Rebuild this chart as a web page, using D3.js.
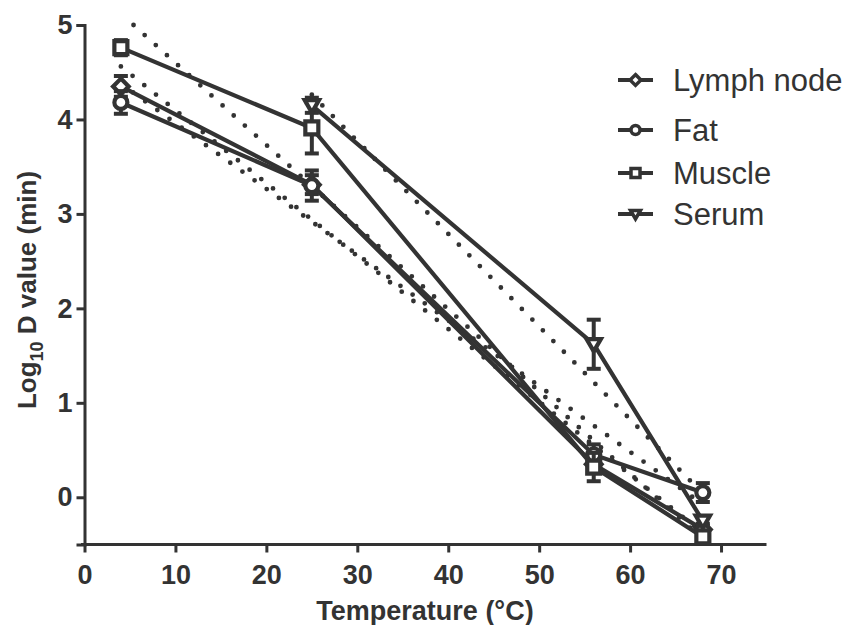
<!DOCTYPE html>
<html><head><meta charset="utf-8">
<script src="https://cdn.jsdelivr.net/npm/d3@7/dist/d3.min.js"></script>
<style>body{margin:0;background:#fff;}svg{display:block;}</style>
</head><body>
<svg id="chart" width="845" height="625"></svg>
<script>
// ---- data ----
const seriesNames = ["Lymph node", "Fat", "Muscle", "Serum"];
const seriesSymbols = ["diamond", "circle", "square", "triangle"];
const lymphX = [4, 25, 56, 68];
const lymphY = [4.35, 3.31, 0.35, -0.34];
const lymphErr = [0.11, 0.10, 0.08, 0.06];
const fatX = [4, 25, 56, 68];
const fatY = [4.18, 3.30, 0.45, 0.05];
const fatErr = [0.12, 0.16, 0.11, 0.10];
const muscleX = [4, 25, 56, 68];
const muscleY = [4.76, 3.91, 0.32, -0.42];
const muscleErr = [0.08, 0.27, 0.15, 0.05];
const serumX = [25, 56, 68];
const serumY = [4.15, 1.62, -0.25];
const serumErr = [0.08, 0.26, 0.05];
const xTicks = [0, 10, 20, 30, 40, 50, 60, 70];
const yTicks = [0, 1, 2, 3, 4, 5];

const seriesData = [
  {x: lymphX, y: lymphY, e: lymphErr},
  {x: fatX, y: fatY, e: fatErr},
  {x: muscleX, y: muscleY, e: muscleErr},
  {x: serumX, y: serumY, e: serumErr}
];

const ink = "#333333";
const font = "Liberation Sans, Arial, sans-serif";
const svg = d3.select("#chart");
const x = d3.scaleLinear().domain([0, 75]).range([84.5, 766.5]);
const y = d3.scaleLinear().domain([-0.5, 5]).range([544.5, 25]);

// least-squares fit lines (dotted)
function fit(xs, ys) {
  const mx = d3.mean(xs), my = d3.mean(ys);
  let sxy = 0, sxx = 0;
  xs.forEach((v, i) => { sxy += (v - mx) * (ys[i] - my); sxx += (v - mx) * (v - mx); });
  const b = sxy / sxx, a = my - b * mx;
  return {a, b};
}
const fitG = svg.append("g");
seriesData.forEach(s => {
  const f = fit(s.x, s.y);
  let x0 = d3.min(s.x), x1 = d3.max(s.x);
  if (f.a + f.b * x0 > 5) x0 = (5 - f.a) / f.b;
  fitG.append("line")
    .attr("x1", x(x0)).attr("y1", y(f.a + f.b * x0))
    .attr("x2", x(x1)).attr("y2", y(f.a + f.b * x1))
    .attr("stroke", ink).attr("stroke-width", 4.8)
    .attr("stroke-linecap", "round").attr("stroke-dasharray", "0 15");
});

// axes
const xAxis = d3.axisBottom(x).tickValues(xTicks).tickSize(8).tickPadding(12).tickFormat(d3.format("d"));
const gx = svg.append("g").attr("transform", "translate(0,544.5)").call(xAxis);
const yAxis = d3.axisLeft(y).tickValues(yTicks).tickSize(8).tickPadding(4).tickFormat(d3.format("d"));
const gy = svg.append("g").attr("transform", "translate(84.5,0)").call(yAxis);
[gx, gy].forEach(g => {
  g.select(".domain").attr("stroke", ink).attr("stroke-width", 3);
  g.selectAll(".tick line").attr("stroke", ink).attr("stroke-width", 3);
  g.selectAll(".tick text").attr("fill", ink).attr("font-family", font)
    .attr("font-weight", "bold").attr("font-size", 27);
});
gx.select(".domain").attr("d", "M81,0H766.5");

// axis titles
svg.append("text").attr("x", 425).attr("y", 620).attr("text-anchor", "middle")
  .attr("font-family", font).attr("font-weight", "bold")
  .attr("font-size", 27).attr("fill", ink).text("Temperature (°C)");
const yt = svg.append("text").attr("transform", "translate(36,290) rotate(-90)").attr("text-anchor", "middle")
  .attr("font-family", font).attr("font-weight", "bold")
  .attr("font-size", 26).attr("fill", ink);
yt.append("tspan").text("Log");
yt.append("tspan").attr("font-size", 18).attr("dy", 7).text("10");
yt.append("tspan").attr("dy", -7).text(" D value (min)");

// symbol paths
function symPath(type, r) {
  if (type === "circle") return d3.symbol(d3.symbolCircle, Math.PI * r * r)();
  if (type === "square") return d3.symbol(d3.symbolSquare, (2 * r) * (2 * r))();
  if (type === "diamond") return `M0,${-r * 1.2}L${r * 1.2},0L0,${r * 1.2}L${-r * 1.2},0Z`;
  if (type === "triangle") return `M${-r * 1.1},${-r * 0.8}L${r * 1.1},${-r * 0.8}L0,${r * 1.1}Z`;
}

// series
seriesData.forEach((s, si) => {
  const g = svg.append("g");
  const pts = s.x.map((v, i) => ({x: v, y: s.y[i], e: s.e[i]}));
  g.append("path").datum(pts)
    .attr("d", d3.line().x(d => x(d.x)).y(d => y(d.y)))
    .attr("fill", "none").attr("stroke", ink).attr("stroke-width", 4.2);
  pts.forEach(p => {
    g.append("line").attr("x1", x(p.x)).attr("x2", x(p.x))
      .attr("y1", y(p.y - p.e)).attr("y2", y(p.y + p.e))
      .attr("stroke", ink).attr("stroke-width", 4);
    [p.y - p.e, p.y + p.e].forEach(v => {
      g.append("line").attr("x1", x(p.x) - 7).attr("x2", x(p.x) + 7)
        .attr("y1", y(v)).attr("y2", y(v)).attr("stroke", ink).attr("stroke-width", 4);
    });
  });
  g.selectAll("path.m").data(pts).join("path").attr("class", "m")
    .attr("transform", d => `translate(${x(d.x)},${y(d.y)})`)
    .attr("d", symPath(seriesSymbols[si], 6.5))
    .attr("fill", "#fff").attr("stroke", ink).attr("stroke-width", 4.2);
});

// legend
const legY = [80, 130, 173, 214];
const leg = svg.append("g");
seriesNames.forEach((n, i) => {
  const gy2 = legY[i];
  leg.append("line").attr("x1", 618).attr("x2", 653).attr("y1", gy2).attr("y2", gy2)
    .attr("stroke", ink).attr("stroke-width", 4);
  leg.append("path").attr("transform", `translate(635.5,${gy2})`)
    .attr("d", symPath(seriesSymbols[i], 4.5))
    .attr("fill", "#fff").attr("stroke", ink).attr("stroke-width", 3.5);
  leg.append("text").attr("x", 673).attr("y", gy2 + 11)
    .attr("font-family", font).attr("font-size", 31)
    .attr("fill", ink).text(n);
});
</script>
</body></html>
